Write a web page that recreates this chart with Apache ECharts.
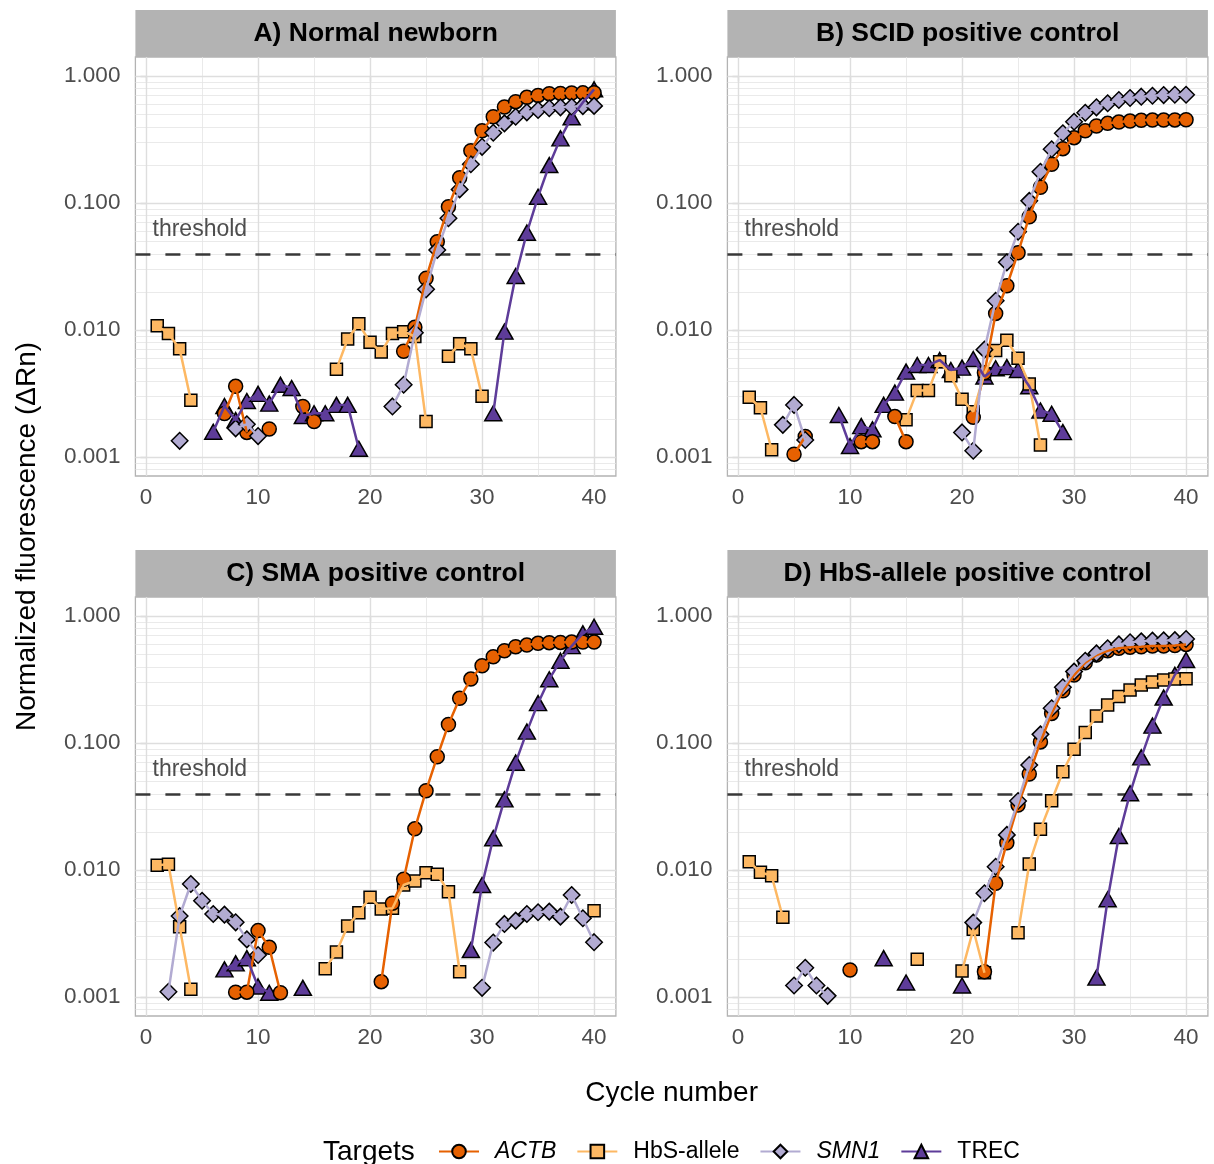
<!DOCTYPE html>
<html>
<head>
<meta charset="utf-8">
<script src="https://cdn.jsdelivr.net/npm/echarts@6/dist/echarts.min.js"></script>
<style>html,body{margin:0;padding:0;background:#fff}#chart{width:1214px;height:1164px}</style>
</head>
<body>
<div id="chart"></div>
<script>
const _ = null;
// ---------- categories / ticks ----------
const cycles = [1,2,3,4,5,6,7,8,9,10,11,12,13,14,15,16,17,18,19,20,21,22,23,24,25,26,27,28,29,30,31,32,33,34,35,36,37,38,39,40];
const targets = ['ACTB','HbS-allele','SMN1','TREC'];
const panelTitles = ['A) Normal newborn','B) SCID positive control','C) SMA positive control','D) HbS-allele positive control'];
const xTicks = [0,10,20,30,40];
const xMinorTicks = [5,15,25,35];
const yTicks = [0.001,0.01,0.1,1];
const yTickLabels = ['0.001','0.010','0.100','1.000'];
const threshold = 0.04;
const thresholdLabel = 'threshold';

// ---------- Panel A: Normal newborn ----------
const A_ACTB = [_,_,_,_,_,_,0.0022,0.0036,0.00156,_, 0.00166,_,_,0.0025,0.0019,_,_,_,_,_, _,_,0.0068,0.0105,0.0255,0.0496,0.0935,0.158,0.258,0.371, 0.478,0.57,0.628,0.68,0.704,0.726,0.73,0.735,0.737,0.739];
const A_HbS  = [0.0108,0.0094,0.0071,0.0028,_,_,_,_,_,_, _,_,_,_,_,_,0.0049,0.0085,0.0112,0.0080, 0.0067,0.0094,0.0097,0.0089,0.0019,_,0.0062,0.0078,0.0071,0.0030, _,_,_,_,_,_,_,_,_,_];
const A_SMN1 = [_,_,0.00134,_,_,_,_,0.00168,0.00181,0.00146, _,_,_,_,_,_,_,_,_,_, _,0.0025,0.0037,0.0095,0.0209,0.0427,0.0758,0.128,0.202,0.277, 0.358,0.424,0.478,0.518,0.54,0.557,0.567,0.573,0.58,0.582];
const A_TREC = [_,_,_,_,_,0.00158,0.00252,0.00195,0.00276,0.00314, 0.00263,0.0037,0.00349,0.0021,0.00221,0.00221,0.00257,0.00257,0.00116,_, _,_,_,_,_,_,_,_,_,_, 0.00221,0.0097,0.0266,0.0584,0.112,0.199,0.323,0.473,0.62,0.786];

// ---------- Panel B: SCID positive control ----------
const B_ACTB = [_,_,_,_,0.00105,0.00145,_,_,_,_, 0.00132,0.00132,_,0.00208,0.00132,_,_,_,_,_, 0.00205,0.0046,0.0135,0.0223,0.0406,0.078,0.133,0.202,0.268,0.327, 0.371,0.404,0.424,0.434,0.442,0.448,0.45,0.45,0.451,0.453];
const B_HbS  = [0.00295,0.00244,0.00114,_,_,_,_,_,_,_, _,_,_,_,0.00196,0.00333,0.00333,0.00563,0.00437,0.00285, 0.00227,0.00453,0.0069,0.0083,0.0060,0.00376,0.00124,_,_,_, _,_,_,_,_,_,_,_,_,_];
const B_SMN1 = [_,_,_,0.00179,0.00257,0.00136,_,_,_,_, _,_,_,_,_,_,_,_,_,0.00156, 0.00112,0.0070,0.017,0.0341,0.0594,0.104,0.176,0.265,0.354,0.437, 0.514,0.567,0.61,0.647,0.671,0.688,0.70,0.708,0.713,0.713];
const B_TREC = [_,_,_,_,_,_,_,_,0.00214,0.00122, 0.00175,0.00165,0.00257,0.00321,0.0047,0.0053,0.0053,0.0058,0.00484,0.00505, 0.00591,0.0043,0.0050,0.0051,0.00484,0.0036,0.00232,0.00219,0.00157,_, _,_,_,_,_,_,_,_,_,_];

// ---------- Panel C: SMA positive control ----------
const C_ACTB = [_,_,_,_,_,_,_,0.00109,0.00109,0.00333, 0.00246,0.00108,_,_,_,_,_,_,_,_, 0.00132,0.00547,0.00845,0.0211,0.0421,0.078,0.14,0.225,0.319,0.406, 0.478,0.533,0.573,0.591,0.61,0.617,0.62,0.624,0.624,0.624];
const C_HbS  = [0.0109,0.0111,0.00358,0.00115,_,_,_,_,_,_, _,_,_,_,_,0.00167,0.00226,0.00362,0.00461,0.0061, 0.00493,0.00499,0.00762,0.00819,0.00952,0.00925,0.00675,0.00158,_,_, _,_,_,_,_,_,_,_,_,0.00478];
const C_SMN1 = [_,0.0011,0.00434,0.00776,0.00573,0.0045,0.00445,0.00387,0.00284,0.00214, _,_,_,_,_,_,_,_,_,_, _,_,_,_,_,_,_,_,_,0.00118, 0.00268,0.00376,0.00399,0.0045,0.00465,0.0047,0.00429,0.00635,0.00417,0.0027];
const C_TREC = [_,_,_,_,_,_,0.00165,0.00184,0.00202,0.00121, 0.00108,_,_,0.00118,_,_,_,_,_,_, _,_,_,_,_,_,_,_,0.00234,0.00762, 0.0178,0.036,0.07,0.123,0.206,0.318,0.445,0.58,0.731,0.824];

// ---------- Panel D: HbS-allele positive control ----------
const D_ACTB = [_,_,_,_,_,_,_,_,_,0.00163, _,_,_,_,_,_,_,_,_,_, _,0.00158,0.00785,0.0164,0.0325,0.057,0.102,0.171,0.258,0.343, 0.429,0.493,0.533,0.557,0.567,0.573,0.58,0.58,0.585,0.598];
const D_HbS  = [0.0116,0.0096,0.0090,0.00424,_,_,_,_,_,_, _,_,_,_,_,0.00198,_,_,_,0.0016, 0.00341,0.00155,_,_,0.00321,0.01115,0.0209,0.0351,0.0594,0.0892, 0.121,0.163,0.199,0.232,0.261,0.286,0.302,0.313,0.319,0.321];
const D_SMN1 = [_,_,_,_,0.00123,0.0017,0.00123,0.00102,_,_, _,_,_,_,_,_,_,_,_,_, 0.00385,0.00656,0.0106,0.0189,0.0349,0.0671,0.117,0.188,0.275,0.365, 0.445,0.508,0.557,0.598,0.621,0.632,0.64,0.643,0.646,0.659];
const D_TREC = [_,_,_,_,_,_,_,_,_,_, _,_,0.00202,_,0.0013,_,_,_,_,0.00123, _,_,_,_,_,_,_,_,_,_, _,0.00142,0.00588,0.0185,0.0402,0.0771,0.137,0.228,0.345,0.451];

// ---------- build ----------
const panelSeries = [
  {'ACTB': A_ACTB, 'HbS-allele': A_HbS, 'SMN1': A_SMN1, 'TREC': A_TREC},
  {'ACTB': B_ACTB, 'HbS-allele': B_HbS, 'SMN1': B_SMN1, 'TREC': B_TREC},
  {'ACTB': C_ACTB, 'HbS-allele': C_HbS, 'SMN1': C_SMN1, 'TREC': C_TREC},
  {'ACTB': D_ACTB, 'HbS-allele': D_HbS, 'SMN1': D_SMN1, 'TREC': D_TREC}
];

const FONT = 'Liberation Sans, Arial, Helvetica, sans-serif';
const LOG = v => Math.log10(v);
const X_MIN = -0.95, X_MAX = 41.95;
const Y_MIN = -3.15, Y_MAX = 0.15;   // log10 limits
const PW = 480.5, PH = 419, STRIP = 47;
const layout = [{left:135.4, top:57},{left:727.4, top:57},{left:135.4, top:597},{left:727.4, top:597}];

const tStyle = {
  'ACTB':       {color:'#E66101', symbol:'circle',  size:14},
  'HbS-allele': {color:'#FDB863', symbol:'rect',    size:12},
  'SMN1':       {color:'#B2ABD2', symbol:'diamond', size:[16.5,16.5]},
  'TREC':       {color:'#5E3C99', symbol:'triangle',size:[17,15]}
};
const BORDER_W = 1.5;

// grid (decoration) lines
const minorY = [];
[-4,-3,-2,-1,0].forEach(d => { for (let k = 2; k <= 9; k++) { const lv = LOG(k * Math.pow(10, d)); if (lv > Y_MIN && lv < Y_MAX) minorY.push(lv); } });
function gridMarkLines() {
  const d = [];
  minorY.forEach(v => d.push({yAxis: v, lineStyle:{color:'#E4E4E4', width:0.8, type:'solid'}}));
  xMinorTicks.forEach(v => d.push({xAxis: v, lineStyle:{color:'#E4E4E4', width:0.8, type:'solid'}}));
  yTicks.forEach(v => d.push({yAxis: LOG(v), lineStyle:{color:'#DEDEDE', width:1.4, type:'solid'}}));
  xTicks.forEach(v => d.push({xAxis: v, lineStyle:{color:'#DEDEDE', width:1.4, type:'solid'}}));
  d.push({yAxis: LOG(threshold), lineStyle:{color:'#383838', width:2.5, type:[15,15]}});
  return d;
}

const grids = [], xAxes = [], yAxes = [], series = [], graphics = [];
layout.forEach((L, p) => {
  grids.push({left:L.left, top:L.top, width:PW, height:PH, show:true, borderColor:'#B3B3B3', borderWidth:1.3, backgroundColor:'#FFFFFF', containLabel:false, outerBoundsMode:'none'});
  xAxes.push({type:'value', gridIndex:p, min:X_MIN, max:X_MAX,
    axisLine:{show:false}, splitLine:{show:false},
    axisTick:{show:true, length:5.5, customValues:xTicks, lineStyle:{color:'#B3B3B3', width:1.3}},
    axisLabel:{customValues:xTicks, margin:10, color:'#4D4D4D', fontSize:22.5, fontFamily:FONT}});
  yAxes.push({type:'value', gridIndex:p, min:Y_MIN, max:Y_MAX,
    axisLine:{show:false}, splitLine:{show:false},
    axisTick:{show:true, length:5.5, customValues:yTicks.map(LOG), lineStyle:{color:'#B3B3B3', width:1.3}},
    axisLabel:{customValues:yTicks.map(LOG), margin:15, color:'#4D4D4D', fontSize:22.5, fontFamily:FONT,
      formatter: v => { const i = yTicks.findIndex(t => Math.abs(LOG(t) - v) < 1e-6); return i >= 0 ? yTickLabels[i] : ''; }}});
  // strip
  graphics.push({type:'rect', silent:true, shape:{x:L.left, y:L.top - STRIP, width:PW, height:STRIP}, style:{fill:'#B3B3B3'}});
  graphics.push({type:'text', silent:true, x:L.left + PW/2, y:L.top - STRIP/2 + 0.5,
    style:{text:panelTitles[p], align:'center', verticalAlign:'middle', fontSize:26.5, fontWeight:'bold', fontFamily:FONT, fill:'#000'}});
});

// line series (all lines beneath all points)
layout.forEach((L, p) => {
  targets.forEach((t, ti) => {
    const st = tStyle[t], vals = panelSeries[p][t];
    const s = {type:'line', name:t, xAxisIndex:p, yAxisIndex:p,
      data: cycles.map((c, i) => vals[i] == null ? [c, '-'] : [c, LOG(vals[i])]),
      showSymbol:false, symbol:st.symbol, symbolSize:st.size, connectNulls:false, silent:true,
      lineStyle:{color:st.color, width:2.5}, itemStyle:{color:st.color, borderColor:'#000', borderWidth:BORDER_W},
      emphasis:{disabled:true}};
    if (ti === 0) {
      s.markLine = {silent:true, z:1, symbol:['none','none'], label:{show:false}, animation:false, data: gridMarkLines()};
      s.markPoint = {silent:true, symbol:'circle', symbolSize:0, animation:false,
        label:{show:true, position:'inside', formatter:thresholdLabel, color:'#4D4D4D', fontSize:23, fontFamily:FONT},
        data:[{coord:[4.8, LOG(0.062)]}]};
    }
    series.push(s);
  });
});
// point series, drawn in the reference's stacking order
const pointOrder = ['TREC','HbS-allele','ACTB','SMN1'];
layout.forEach((L, p) => {
  pointOrder.forEach(t => {
    const st = tStyle[t], vals = panelSeries[p][t];
    const pts = [];
    cycles.forEach((c, i) => { if (vals[i] != null) pts.push([c, LOG(vals[i])]); });
    series.push({type:'scatter', name:t, xAxisIndex:p, yAxisIndex:p, data:pts, silent:true,
      symbol:st.symbol, symbolSize:st.size,
      itemStyle:{color:st.color, borderColor:'#000', borderWidth:BORDER_W, opacity:1}, emphasis:{disabled:true}});
  });
});

// titles
graphics.push({type:'text', silent:true, x:27, y:536.5, rotation:Math.PI/2,
  style:{text:'Normalized fluorescence (ΔRn)', align:'center', verticalAlign:'middle', fontSize:28, fontFamily:FONT, fill:'#000'}});
graphics.push({type:'text', silent:true, x:671.6, y:1093,
  style:{text:'Cycle number', align:'center', verticalAlign:'middle', fontSize:28, fontFamily:FONT, fill:'#000'}});
graphics.push({type:'text', silent:true, x:323, y:1152,
  style:{text:'Targets', align:'left', verticalAlign:'middle', fontSize:28, fontFamily:FONT, fill:'#000'}});

const chart = echarts.init(document.getElementById('chart'), null, {renderer:'canvas'});
chart.setOption({
  animation:false,
  backgroundColor:'#FFFFFF',
  textStyle:{fontFamily:FONT},
  grid:grids, xAxis:xAxes, yAxis:yAxes,
  legend:{left:438, top:1140, padding:0, orient:'horizontal', itemWidth:40, itemHeight:17, itemGap:20, selectedMode:false,
    data:[{name:'ACTB', textStyle:{fontStyle:'italic'}}, {name:'HbS-allele'}, {name:'SMN1', textStyle:{fontStyle:'italic'}}, {name:'TREC'}],
    textStyle:{fontSize:23, color:'#000', fontFamily:FONT, padding:[0,0,0,11]}},
  graphic:graphics,
  series:series
});
</script>
</body>
</html>
